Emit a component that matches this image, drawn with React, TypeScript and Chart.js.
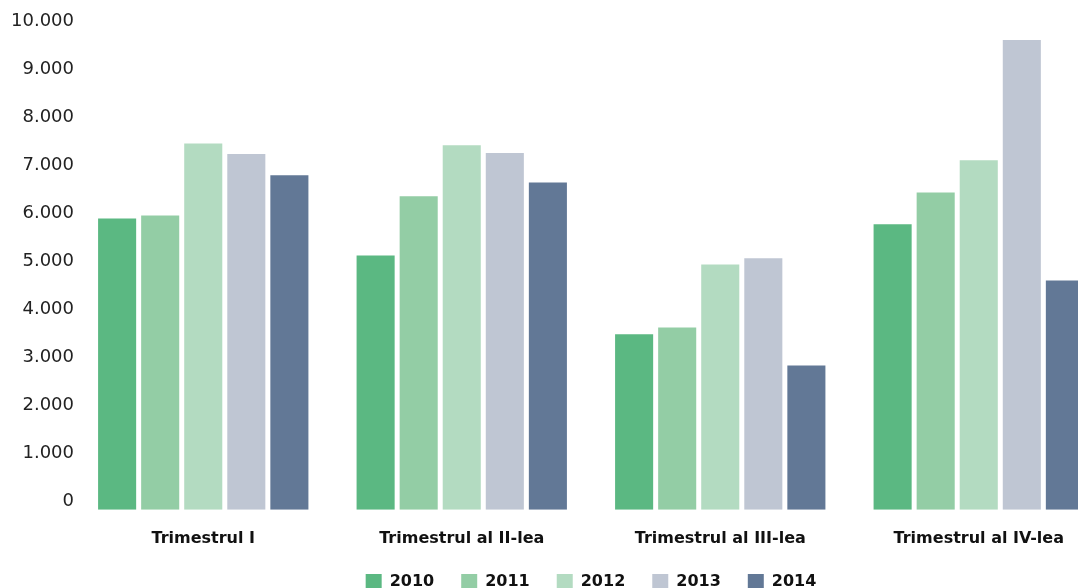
import React, { useEffect, useRef } from "react";
import { Chart, registerables } from "chart.js";

Chart.register(...registerables);

const categories = [
  "Trimestrul I",
  "Trimestrul al II-lea",
  "Trimestrul al III-lea",
  "Trimestrul al IV-lea",
];
const seriesLabels = ["2010", "2011", "2012", "2013", "2014"];
const values2010 = [6060, 5290, 3650, 5940];
const values2011 = [6120, 6520, 3790, 6600];
const values2012 = [7620, 7580, 5100, 7270];
const values2013 = [7400, 7420, 5230, 9770];
const values2014 = [6960, 6810, 3000, 4770];
const seriesColors = ["#5bb882", "#93cda5", "#b3dbc1", "#bfc6d3", "#627896"];
const yMin = 0;
const yMax = 10000;
const yStep = 1000;

const FONT = "'DejaVu Sans', sans-serif";

function formatTick(v: number): string {
  return String(v).replace(/\B(?=(\d{3})+(?!\d))/g, ".");
}

export default function App() {
  const ref = useRef<HTMLCanvasElement | null>(null);

  useEffect(() => {
    if (!ref.current) return;
    const allValues = [values2010, values2011, values2012, values2013, values2014];
    const chart = new Chart(ref.current, {
      type: "bar",
      data: {
        labels: categories,
        datasets: seriesLabels.map((label, i) => ({
          label,
          data: allValues[i],
          backgroundColor: seriesColors[i],
          borderWidth: 0,
          categoryPercentage: 0.833,
          barPercentage: 0.884,
        })),
      },
      options: {
        responsive: false,
        animation: false,
        devicePixelRatio: 1,
        layout: { padding: { top: 29, right: 2, left: 0, bottom: 0 } },
        plugins: {
          tooltip: { enabled: false },
          legend: {
            position: "bottom",
            fullSize: false,
            labels: {
              boxWidth: 16,
              boxHeight: 16,
              padding: 27,
              color: "#111",
              font: { family: FONT, size: 16, weight: "bold" },
            },
          },
        },
        scales: {
          x: {
            grid: { display: false, drawTicks: false },
            border: { display: false },
            afterFit: (scale: any) => {
              scale.height = scale.height - 20;
            },
            ticks: {
              padding: 19,
              color: "#111",
              font: { family: FONT, size: 16, weight: "bold" },
              maxRotation: 0,
            },
          },
          y: {
            min: yMin,
            max: yMax,
            grid: { display: false, drawTicks: false },
            border: { display: false },
            afterFit: (scale: any) => {
              scale.width = 74;
            },
            ticks: {
              stepSize: yStep,
              padding: 0,
              labelOffset: -8,
              color: "#222",
              font: { family: FONT, size: 18 },
              callback: (v: any) => formatTick(Number(v)),
            },
          },
        },
      },
    });
    return () => chart.destroy();
  }, []);

  return (
    <div
      style={{
        position: "absolute",
        left: 0,
        top: 0,
        width: 1078,
        height: 588,
        overflow: "hidden",
        background: "#fff",
      }}
    >
      <canvas ref={ref} width={1110} height={600} style={{ display: "block" }} />
    </div>
  );
}
